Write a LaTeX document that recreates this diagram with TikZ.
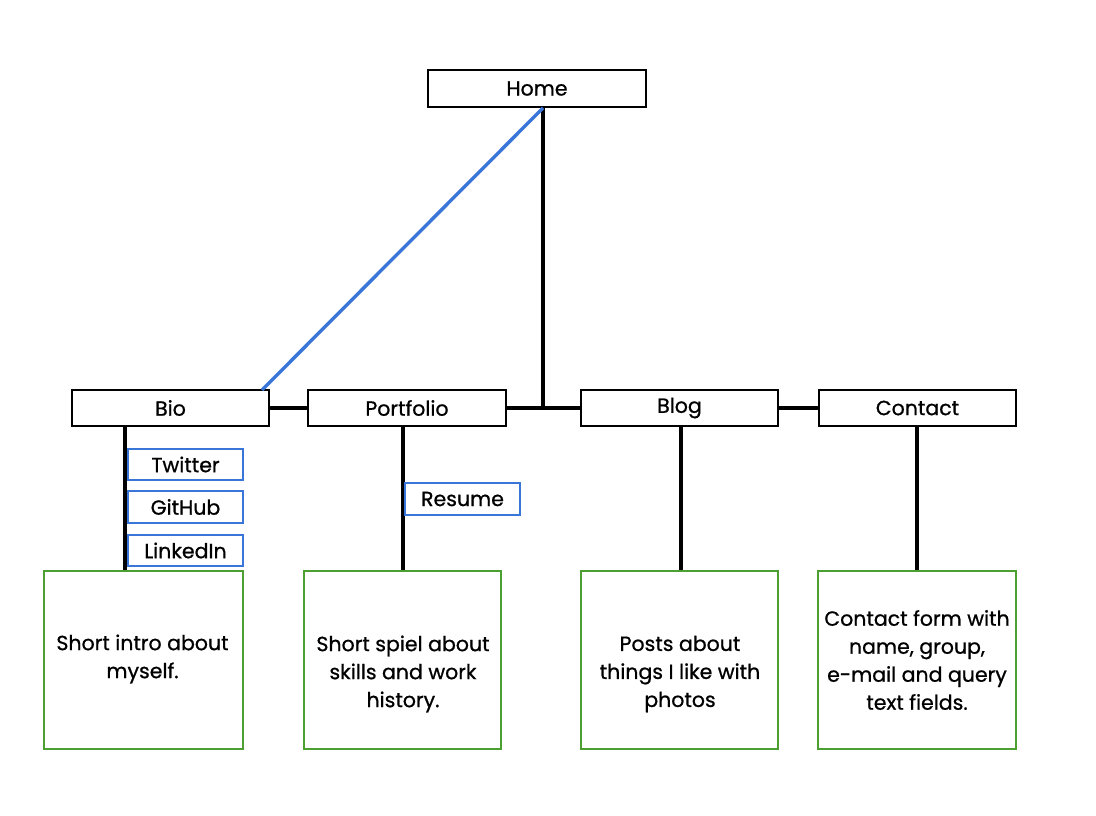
\documentclass[tikz,border=0pt]{standalone}
\usepackage{fontspec}
\setmainfont{Poppins}[FakeBold=0.8]
\begin{document}
\begin{tikzpicture}[x=1pt,y=-1pt,
  page/.style={draw=black,line width=2.4pt,fill=white,inner sep=0pt,font=\fontsize{20.5}{24}\selectfont},
  sub/.style={draw={rgb,255:red,58;green,117;blue,216},line width=2.2pt,fill=white,inner sep=0pt,font=\fontsize{20.5}{24}\selectfont},
  desc/.style={draw={rgb,255:red,76;green,160;blue,50},line width=2.2pt,fill=white,inner sep=0pt},
  desctext/.style={align=center,inner sep=0pt,font=\fontsize{20.5}{28}\selectfont},
  conn/.style={line width=3.5pt,black},
  blueconn/.style={line width=3.4pt,draw={rgb,255:red,58;green,117;blue,216}}]
\useasboundingbox (0,0) rectangle (1096,816);
\coordinate (junc) at (543,408);
\coordinate (bioTR) at (262,390);
% top-level pages
\node[page,minimum width=218pt,minimum height=37pt] (home) at (537,88.5) {Home};
\node[page,minimum width=197pt,minimum height=36pt] (bio) at (170.5,408) {Bio};
\node[page,minimum width=198pt,minimum height=36pt] (port) at (407,408) {Portfolio};
\node[page,minimum width=197pt,minimum height=36pt] (blog) at (679.5,408) {Blog};
\node[page,minimum width=197pt,minimum height=36pt] (cont) at (917.5,408) {Contact};
% connectors
\draw[conn] (543,107) -- (junc);
\draw[conn] (bio.east) -- (port.west);
\draw[conn] (port.east) -- (blog.west);
\draw[conn] (blog.east) -- (cont.west);
\draw[blueconn] (543,108) -- (bioTR);
% description boxes
\node[desc,minimum width=199pt,minimum height=178pt] (bioD) at (143.5,660) {};
\node[desc,minimum width=197pt,minimum height=178pt] (portD) at (402.5,660) {};
\node[desc,minimum width=197pt,minimum height=178pt] (blogD) at (679.5,660) {};
\node[desc,minimum width=198pt,minimum height=178pt] (contD) at (917,660) {};
\node[desctext] (bioT) at (142.5,659) {Short intro about\\myself.};
\node[desctext] (portT) at (403,674) {Short spiel about\\skills and work\\history.};
\node[desctext] (blogT) at (680,674) {Posts about\\things I like with\\photos};
\node[desctext] (contT) at (917,660) {Contact form with\\name, group,\\e-mail and query\\text fields.};
% verticals
\draw[conn] (125,426) -- (bioD.north -| 125,0);
\draw[conn] (403,426) -- (portD.north -| 403,0);
\draw[conn] (681,426) -- (blogD.north -| 681,0);
\draw[conn] (917,426) -- (contD.north);
% sub-pages
\node[sub,minimum width=115pt,minimum height=31pt] (tw) at (185.5,464.5) {Twitter};
\node[sub,minimum width=115pt,minimum height=32pt] (gh) at (185.5,507) {GitHub};
\node[sub,minimum width=115pt,minimum height=31pt] (li) at (185.5,550.5) {LinkedIn};
\node[sub,minimum width=115pt,minimum height=32pt] (res) at (462.5,499) {Resume};
\end{tikzpicture}
\end{document}
